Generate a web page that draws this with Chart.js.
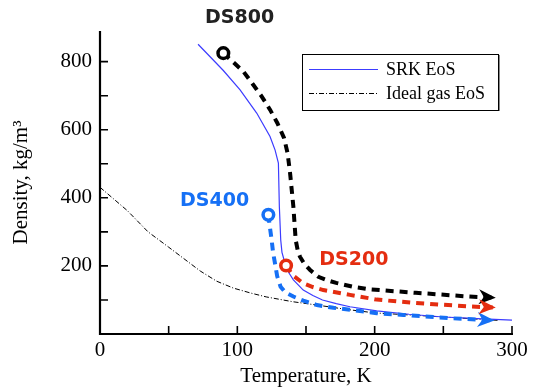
<!DOCTYPE html>
<html>
<head>
<meta charset="utf-8">
<script src="https://cdn.jsdelivr.net/npm/chart.js@4"></script>
<style>
  html, body { margin: 0; padding: 0; background: #fff; }
</style>
</head>
<body>
<canvas id="densityChart" width="537" height="392"></canvas>
<script>
// Data (temperature in K, density in kg/m3)
const srkT   = [71.4, 80, 89.8, 102, 114.1, 123.8, 127.5, 129.9, 130.6, 131.6, 132.5, 134.7, 137.5, 140.8, 148, 155, 162, 172, 182, 201.5, 225, 250, 275, 300];
const srkRho = [851, 815, 774, 717, 649, 580, 540, 502, 374, 276, 240, 208, 180, 159, 129, 113, 100, 89, 80, 68, 58, 50, 45, 41];

const idealT   = [0, 20, 35, 50, 73, 85, 97, 110, 121, 140, 158, 180, 200, 250, 290];
const idealRho = [431, 362, 300, 255, 185, 155, 135, 120, 109, 95, 85, 72, 62, 50, 40];

const ds800T   = [89.8, 104.4, 111.6, 117.7, 123.8, 129.1, 134, 136.6, 138.4, 140.8, 142.5, 144, 145.6, 149, 153, 159, 166, 172, 185, 196.6, 230, 269, 286];
const ds800Rho = [825, 771, 732, 698, 659, 620, 576, 531, 473, 374, 276, 245, 227, 205, 188, 168, 157, 150, 138, 131, 121, 110, 107];

const ds400T   = [122.6, 123.5, 125, 126, 127.4, 129, 131.5, 135, 140.8, 148, 158, 170, 182, 201.5, 221, 257, 285];
const ds400Rho = [350, 320, 276, 240, 208, 170, 139, 122, 110, 98, 85, 77, 71, 61, 56, 46, 40];

const ds200T   = [135.5, 140.5, 148, 155, 162.6, 182, 201.5, 230, 269, 286];
const ds200Rho = [201, 172, 149, 138, 129, 115, 101, 91, 81, 78];

const xTickLabels = [0, 100, 200, 300];
const xMinorTicks = [50, 150, 250];
const yTickLabels = [200, 400, 600, 800];
const yMinorTicks = [100, 300, 500, 700];

const seriesNames = ["SRK EoS", "Ideal gas EoS"];
const trajectoryNames = ["DS800", "DS400", "DS200"];

const BLACK = "#000";
const SRK_BLUE = "#3c3cff";
const DS_BLUE = "#1670f5";
const DS_RED = "#e42d10";
const SERIF = "'Liberation Serif', 'Times New Roman', serif";

function toPoints(xs, ys) {
  return xs.map((x, i) => ({ x: x, y: ys[i] }));
}

// dashed trajectory with an open circle at the start and an arrow at the end
function trajectory(label, xs, ys, color) {
  return {
    label: label,
    data: toPoints(xs, ys),
    borderColor: color,
    borderWidth: 4,
    borderDash: [8, 6],
    pointRadius: (c) => (c.dataIndex === 0 ? 5.3 : 0),
    pointBorderWidth: 3.5,
    pointBorderColor: color,
    pointBackgroundColor: "#fff",
    arrow: true,
    order: 0,
  };
}

// inward axis ticks + axis lines
const axesPlugin = {
  id: "axesPlugin",
  afterDatasetsDraw(chart) {
    const { ctx, chartArea: a, scales } = chart;
    const tick = 8;
    ctx.save();
    ctx.strokeStyle = BLACK;
    ctx.lineWidth = 1.6;
    ctx.beginPath();
    xTickLabels.concat(xMinorTicks).forEach((v) => {
      const px = scales.x.getPixelForValue(v);
      ctx.moveTo(px, a.bottom);
      ctx.lineTo(px, a.bottom - tick);
    });
    yTickLabels.concat(yMinorTicks).forEach((v) => {
      const py = scales.y.getPixelForValue(v);
      ctx.moveTo(a.left, py);
      ctx.lineTo(a.left + tick, py);
    });
    ctx.stroke();
    ctx.lineWidth = 2.2;
    ctx.beginPath();
    ctx.moveTo(a.left, a.top);
    ctx.lineTo(a.left, a.bottom);
    ctx.lineTo(a.right + 1, a.bottom);
    ctx.stroke();
    ctx.restore();
  },
};

// arrow heads on the trajectories
const arrowPlugin = {
  id: "arrowPlugin",
  afterDatasetsDraw(chart) {
    const ctx = chart.ctx;
    chart.data.datasets.forEach((ds, i) => {
      if (!ds.arrow) return;
      const pts = chart.getDatasetMeta(i).data;
      const tip = pts[pts.length - 1];
      const prev = pts[pts.length - 3];
      const ang = Math.atan2(tip.y - prev.y, tip.x - prev.x);
      ctx.save();
      ctx.translate(tip.x, tip.y);
      ctx.rotate(ang);
      ctx.fillStyle = ds.borderColor;
      ctx.beginPath();
      ctx.moveTo(3, 0);
      ctx.lineTo(-14, -7.5);
      ctx.lineTo(-9, 0);
      ctx.lineTo(-14, 7.5);
      ctx.closePath();
      ctx.fill();
      ctx.restore();
    });
  },
};

// legend box and trajectory labels
const notesPlugin = {
  id: "notesPlugin",
  afterDraw(chart) {
    const { ctx, scales } = chart;
    ctx.save();
    // legend
    ctx.fillStyle = "#fff";
    ctx.fillRect(302, 54, 197, 57);
    ctx.strokeStyle = "#000";
    ctx.lineWidth = 1;
    ctx.strokeRect(302.5, 54.5, 196, 56);
    ctx.strokeStyle = "#888";
    ctx.beginPath();
    ctx.moveTo(499.5, 55);
    ctx.lineTo(499.5, 111);
    ctx.stroke();

    const rows = [
      { name: seriesNames[0], color: SRK_BLUE, width: 1.2, dash: [], y: 69 },
      { name: seriesNames[1], color: BLACK, width: 1, dash: [5, 2, 1, 2], y: 93 },
    ];
    rows.forEach((r) => {
      ctx.strokeStyle = r.color;
      ctx.lineWidth = r.width;
      ctx.setLineDash(r.dash);
      ctx.beginPath();
      ctx.moveTo(309, r.y + 0.5);
      ctx.lineTo(378, r.y + 0.5);
      ctx.stroke();
      ctx.setLineDash([]);
      ctx.fillStyle = "#000";
      ctx.font = "18px " + SERIF;
      ctx.textBaseline = "alphabetic";
      ctx.textAlign = "left";
      ctx.fillText(r.name, 386, r.y + 6);
    });

    // trajectory labels anchored in data space
    const notes = [
      { text: trajectoryNames[0], t: 76.5, rho: 913, color: "#222" },
      { text: trajectoryNames[1], t: 58.3, rho: 376, color: DS_BLUE },
      { text: trajectoryNames[2], t: 159.7, rho: 203, color: DS_RED },
    ];
    ctx.font = "bold 19px 'DejaVu Sans', sans-serif";
    notes.forEach((n) => {
      ctx.fillStyle = n.color;
      ctx.fillText(n.text, scales.x.getPixelForValue(n.t), scales.y.getPixelForValue(n.rho));
    });
    ctx.restore();
  },
};

const ctx = document.getElementById("densityChart").getContext("2d");
const densityChart = new Chart(ctx, {
  type: "line",
  data: {
    datasets: [
      trajectory(trajectoryNames[0], ds800T, ds800Rho, BLACK),
      trajectory(trajectoryNames[1], ds400T, ds400Rho, DS_BLUE),
      trajectory(trajectoryNames[2], ds200T, ds200Rho, DS_RED),
      {
        label: seriesNames[0],
        data: toPoints(srkT, srkRho),
        borderColor: SRK_BLUE,
        borderWidth: 1.2,
        pointRadius: 0,
        order: 1,
      },
      {
        label: seriesNames[1],
        data: toPoints(idealT, idealRho),
        borderColor: BLACK,
        borderWidth: 1,
        borderDash: [5, 2, 1, 2],
        pointRadius: 0,
        order: 2,
      },
    ],
  },
  options: {
    responsive: false,
    animation: false,
    devicePixelRatio: 1,
    layout: { padding: { top: 31, right: 25, left: 0, bottom: 0 } },
    plugins: {
      legend: { display: false },
      tooltip: { enabled: false },
    },
    scales: {
      x: {
        type: "linear",
        min: 0,
        max: 300,
        afterBuildTicks: (s) => { s.ticks = xTickLabels.map((v) => ({ value: v })); },
        afterFit: (s) => { s.height = 58; },
        grid: { display: false, drawTicks: false },
        border: { display: false },
        ticks: { color: "#000", font: { family: SERIF, size: 21 }, padding: 4, maxRotation: 0, autoSkip: false },
        title: {
          display: true,
          text: "Temperature, K",
          color: "#000",
          font: { family: SERIF, size: 21 },
          padding: { top: 0, bottom: 3 },
        },
      },
      y: {
        type: "linear",
        min: 0,
        max: 890,
        afterBuildTicks: (s) => { s.ticks = yTickLabels.map((v) => ({ value: v })); },
        afterFit: (s) => { s.width = 100; },
        grid: { display: false, drawTicks: false },
        border: { display: false },
        ticks: { color: "#000", font: { family: SERIF, size: 21 }, padding: 8, autoSkip: false },
        title: {
          display: true,
          text: "Density, kg/m³",
          color: "#000",
          font: { family: SERIF, size: 21 },
          padding: { top: 9, bottom: 0 },
        },
      },
    },
  },
  plugins: [axesPlugin, arrowPlugin, notesPlugin],
});
</script>
</body>
</html>
